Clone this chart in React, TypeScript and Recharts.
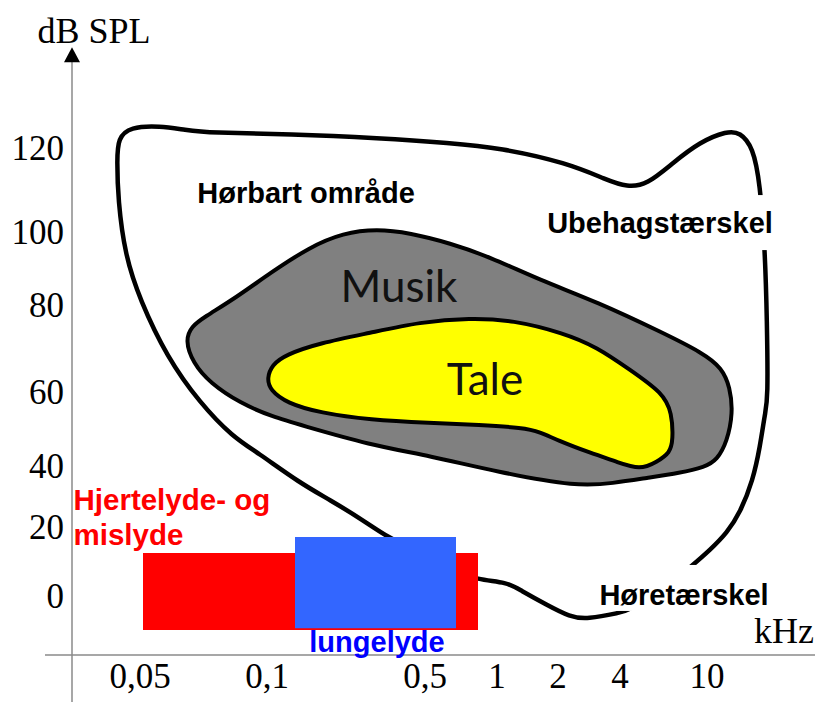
import React from 'react'
import { ReferenceLine, Scatter, ScatterChart, XAxis, YAxis } from 'recharts'

// x = position along the hand drawn (non-uniform) frequency axis, y = dB SPL
const freqTicks = [68, 195, 353, 425, 486, 548, 635]
const freqLabels = ['0,05', '0,1', '0,5', '1', '2', '4', '10']
const dbTicks = [0, 18.5, 34.8, 54.6, 78, 97.4, 120]
const dbLabels = ['0', '20', '40', '60', '80', '100', '120']

const toPoints = (pairs: number[][]) => pairs.map(([x, y]) => ({ x, y }))

// outline of the audible range (threshold of hearing / discomfort)
const hearingArea = toPoints([
  [46, 122.5], [58, 125.5], [88, 125.8], [113, 124.7], [138, 123.9], [218, 123.6], [308, 122.5],
  [378, 121.2], [428, 119.9], [495, 115.9], [535, 111.3], [555, 109.4], [575, 110.0], [601, 115.9],
  [628, 121.5], [655, 124.4], [668, 124.1], [681, 120.1], [688, 110.5], [693, 92.6], [695, 73.8],
  [696, 52.4], [693, 49.0], [688, 39.9], [681, 31.0], [668, 22.2], [655, 16.9], [638, 12.3],
  [621, 8.3], [588, 1.1], [558, -3.7], [548, -4.5], [515, -6.2], [498, -5.6], [475, -2.4],
  [448, 1.6], [435, 3.7], [406, 4.3], [378, 7.0], [348, 11.5], [315, 15.8], [291, 20.3],
  [258, 25.7], [228, 30.2], [185, 38.5], [161, 42.5], [128, 51.6], [95, 63.9], [68, 79.2],
  [53, 91.2], [46, 106.0], [45, 116.7],
])

const musicArea = toPoints([
  [113, 68.5], [120, 72.2], [131, 74.4], [165, 80.0], [198, 86.4], [238, 93.4], [271, 97.1],
  [305, 98.2], [338, 97.1], [378, 94.4], [418, 90.7], [468, 84.5], [525, 78.7], [591, 70.4],
  [631, 65.0], [650, 61.0], [658, 55.9], [661, 49.0], [655, 41.2], [645, 36.4], [633, 34.5],
  [608, 32.9], [575, 31.6], [541, 30.2], [506, 29.2], [425, 33.2], [358, 37.5], [298, 40.4],
  [228, 45.8], [201, 47.9], [168, 51.6], [138, 57.0], [121, 62.3],
])

const speechArea = toPoints([
  [195, 58.3], [200, 61.8], [213, 64.5], [248, 67.7], [298, 70.4], [348, 73.3], [398, 74.4],
  [441, 73.8], [491, 70.4], [525, 66.6], [558, 60.5], [591, 54.3], [600, 49.0], [601, 41.7],
  [598, 38.3], [585, 35.9], [568, 33.7], [545, 35.9], [518, 38.3], [485, 41.7], [468, 43.9],
  [451, 45.0], [408, 45.8], [358, 46.3], [298, 47.1], [248, 49.0], [215, 51.6], [198, 55.1],
])

const heartSounds = toPoints([[71, 11.5], [406, 11.5], [406, -9.1], [71, -9.1]])
const lungSounds = toPoints([[223, 15.8], [384, 15.8], [384, -8.6], [223, -8.6]])

const notes = [
  { x: 22, y: 148.0, text: 'dB SPL', kind: 'axis' },
  { x: 712, y: -12.6, text: 'kHz', kind: 'axis' },
  { x: 234, y: 105.2, text: 'Hørbart område', kind: 'bold' },
  { x: 588, y: 97.1, text: 'Ubehagstærskel', kind: 'boldBoxTall' },
  { x: 612, y: -2.4, text: 'Høretærskel', kind: 'boldBoxLow' },
  { x: 327, y: 78.6, text: 'Musik', kind: 'region' },
  { x: 413, y: 53.8, text: 'Tale', kind: 'region' },
  { x: 1.5, y: 23.0, text: 'Hjertelyde- og', kind: 'red' },
  { x: 1.5, y: 13.6, text: 'mislyde', kind: 'red' },
  { x: 305, y: -15.0, text: 'lungelyde', kind: 'blue' },
]

const axisTop = [{ x: 0, y: 144.7 }]

const SERIF = '"Liberation Serif", "Times New Roman", serif'
const SANS = '"Liberation Sans", Arial, sans-serif'

// box = [top, right, bottom, left] padding of a white backing rect
const NOTE_STYLES: Record<string, any> = {
  axis: { font: SERIF, size: 36, weight: 400, color: '#000', anchor: 'middle' },
  bold: { font: SANS, size: 29, weight: 700, color: '#000', anchor: 'middle' },
  boldBoxTall: { font: SANS, size: 29, weight: 700, color: '#000', anchor: 'middle', box: [38, 10, 17, 3] },
  boldBoxLow: { font: SANS, size: 29, weight: 700, color: '#000', anchor: 'middle', box: [40, 20, 6, 23] },
  region: { font: 'Lato, ' + SANS, size: 44, weight: 400, color: '#111', anchor: 'middle' },
  red: { font: SANS, size: 29.5, weight: 700, color: '#ff0000', anchor: 'start' },
  blue: { font: SANS, size: 29, weight: 700, color: '#0000ff', anchor: 'middle' },
}

function NoteMark(props: any) {
  const { cx, cy, payload } = props
  const s = NOTE_STYLES[payload.kind]
  const w = payload.text.length * s.size * 0.6
  return (
    <g>
      {s.box && (
        <rect
          x={cx - w / 2 - s.box[3]}
          y={cy - s.box[0]}
          width={w + s.box[1] + s.box[3]}
          height={s.box[0] + s.box[2]}
          fill="#ffffff"
        />
      )}
      <text x={cx} y={cy} textAnchor={s.anchor} fontFamily={s.font} fontSize={s.size} fontWeight={s.weight} fill={s.color}>
        {payload.text}
      </text>
    </g>
  )
}

function ArrowHead(props: any) {
  const { cx, cy } = props
  return <path d={`M${cx},${cy - 8} L${cx + 8},${cy + 7} L${cx - 8},${cy + 7} Z`} fill="#000" />
}

const Blank = () => <g />

export default function App() {
  return (
    <div style={{ width: 817, height: 702, background: '#fff' }}>
      <style>{'body { margin: 0; }'}</style>
      <ScatterChart width={817} height={702} margin={{ top: 0, right: 2, bottom: 0, left: 0 }}>
        <XAxis
          type="number"
          dataKey="x"
          domain={[0, 743]}
          ticks={freqTicks}
          interval={0}
          tickFormatter={(v: number) => freqLabels[freqTicks.indexOf(v)]}
          axisLine={false}
          tickLine={false}
          tickSize={0}
          tickMargin={8}
          height={47}
          tick={{ fontSize: 35, fontFamily: SERIF, fill: '#000' }}
        />
        <YAxis
          type="number"
          dataKey="y"
          domain={[-15.79, 159.46]}
          ticks={dbTicks}
          interval={0}
          tickFormatter={(v: number) => dbLabels[dbTicks.indexOf(v)]}
          axisLine={false}
          tickLine={false}
          tickSize={0}
          tickMargin={8}
          width={72}
          tick={{ fontSize: 35, fontFamily: SERIF, fill: '#000' }}
        />
        <ReferenceLine
          segment={[{ x: 0, y: -28.4 }, { x: 0, y: 146 }]}
          stroke="#8a8a8a"
          strokeWidth={1.5}
          ifOverflow="visible"
        />
        <ReferenceLine
          segment={[{ x: -27, y: -15.79 }, { x: 743, y: -15.79 }]}
          stroke="#8a8a8a"
          strokeWidth={1.5}
          ifOverflow="visible"
        />
        <Scatter
          data={hearingArea}
          shape={Blank}
          line={{ stroke: '#000', strokeWidth: 4.5, fill: 'none' }}
          lineType="joint"
          lineJointType="basisClosed"
          isAnimationActive={false}
        />
        <Scatter
          data={musicArea}
          shape={Blank}
          line={{ stroke: '#000', strokeWidth: 4, fill: '#808080' }}
          lineType="joint"
          lineJointType="basisClosed"
          isAnimationActive={false}
        />
        <Scatter
          data={speechArea}
          shape={Blank}
          line={{ stroke: '#000', strokeWidth: 4, fill: '#ffff00' }}
          lineType="joint"
          lineJointType="basisClosed"
          isAnimationActive={false}
        />
        <Scatter
          data={heartSounds}
          shape={Blank}
          line={{ stroke: 'none', fill: '#ff0000' }}
          lineType="joint"
          lineJointType="linearClosed"
          isAnimationActive={false}
        />
        <Scatter
          data={lungSounds}
          shape={Blank}
          line={{ stroke: 'none', fill: '#3366ff' }}
          lineType="joint"
          lineJointType="linearClosed"
          isAnimationActive={false}
        />
        <Scatter data={axisTop} shape={ArrowHead} isAnimationActive={false} />
        <Scatter data={notes} shape={NoteMark} isAnimationActive={false} />
      </ScatterChart>
    </div>
  )
}
